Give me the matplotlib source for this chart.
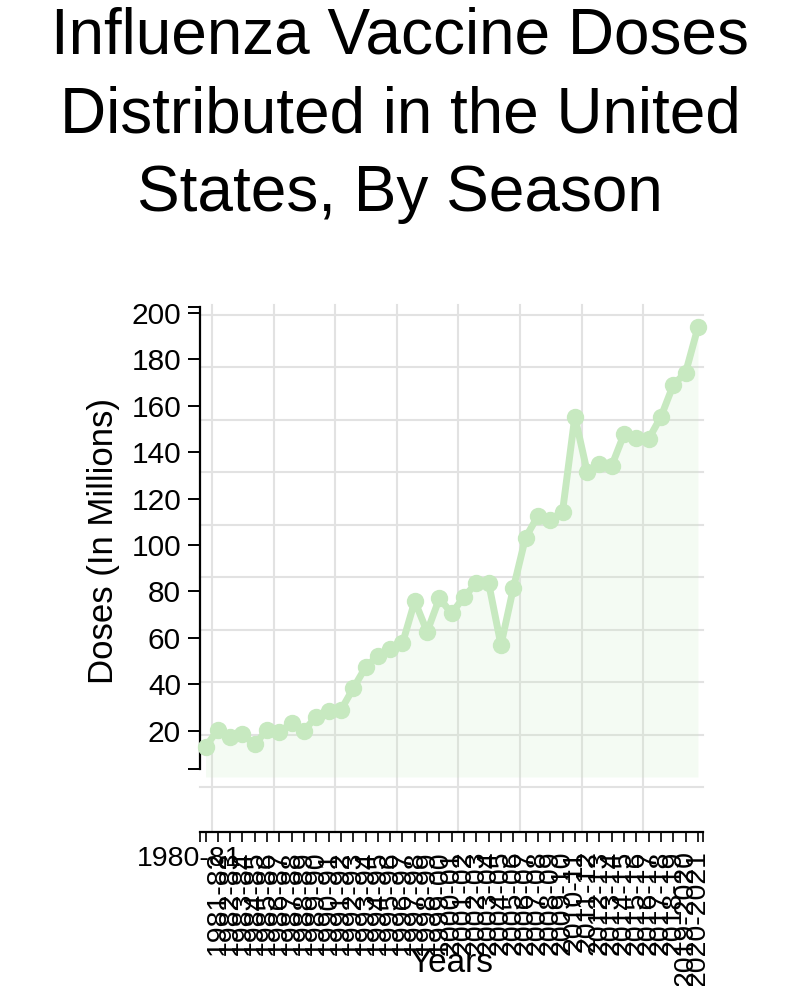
import numpy as np
import matplotlib
matplotlib.use("Agg")
import matplotlib.pyplot as plt

plt.rcParams["font.family"] = ["Liberation Sans", "DejaVu Sans"]

# ----- data -----
SEASONS = [
    "1980-81", "1981-82", "1982-83", "1983-84", "1984-85", "1985-86", "1986-87",
    "1987-88", "1988-89", "1989-90", "1990-91", "1991-92", "1992-93", "1993-94",
    "1994-95", "1995-96", "1996-97", "1997-98", "1998-99", "1999-00", "2000-01",
    "2001-02", "2002-03", "2003-04", "2004-05", "2005-06", "2006-07", "2007-08",
    "2008-09", "2009-10", "2010-11", "2011-12", "2012-13", "2013-14", "2014-15",
    "2015-16", "2016-17", "2017-18", "2018-19", "2019-2020", "2020-2021",
]
DOSES = [
    13.0, 20.3, 17.1, 18.4, 14.1, 20.3, 19.5, 23.1, 20.0, 26.0,
    28.4, 28.9, 38.2, 47.3, 52.2, 55.2, 57.6, 75.8, 62.6, 77.0,
    70.5, 77.7, 83.5, 83.5, 56.9, 81.3, 103.2, 112.5, 110.8, 114.4,
    155.3, 131.6, 134.9, 134.2, 147.8, 146.0, 145.7, 155.3, 169.0, 174.3,
    193.8,
]
Y_TICKS = [20, 40, 60, 80, 100, 120, 140, 160, 180, 200]

LINE_COLOR = "#c7e9c0"
GRID_COLOR = "#e2e2e2"

x = np.arange(len(SEASONS))

fig = plt.figure(figsize=(8, 9.86), dpi=100)
ax = fig.add_axes([200 / 800, 1 - 832 / 986, 503 / 800, 527 / 986])

# background grid (fixed spacing, independent of the scales)
for fy in np.linspace((832 - 315) / 527, (832 - 787) / 527, 10):
    ax.plot([0, 1], [fy, fy], transform=ax.transAxes, color=GRID_COLOR,
            lw=1.5, zorder=0, clip_on=False)
for fx in np.arange(8) * 61.6 / 503 + 12 / 503:
    ax.plot([fx, fx], [0, 1], transform=ax.transAxes, color=GRID_COLOR,
            lw=1.5, zorder=0, clip_on=False)

# area + line
ax.fill_between(x, 0, DOSES, color=LINE_COLOR, alpha=0.18, lw=0, zorder=1)
ax.plot(x, DOSES, color=LINE_COLOR, lw=5, marker="o", ms=11.5,
        zorder=3, clip_on=False)

ax.set_xlim(-0.447, 40.41)
ax.set_ylim(-23.7, 203.4)

# axes styling
for s in ["top", "right"]:
    ax.spines[s].set_visible(False)
ax.spines["left"].set_bounds(3.45, 202.6)
ax.spines["left"].set_linewidth(1.6)
ax.spines["bottom"].set_linewidth(1.6)

ax.set_yticks(Y_TICKS)
ax.set_yticklabels([str(v) for v in Y_TICKS], fontsize=21.5)
ax.set_yticks([3.45, 202.6], minor=True)
ax.tick_params(axis="y", which="both", length=8.6, width=1.4, pad=5,
               direction="out")

ax.set_xticks(x)
ax.set_xticklabels([""] + SEASONS[1:], rotation=90, fontsize=20.5)
ax.set_xticks([-0.447, 40.41], minor=True)
ax.tick_params(axis="x", which="both", length=7.2, width=1.2, pad=6,
               direction="out")

# first season label stays horizontal, partly under the rotated ones
ax.annotate(SEASONS[0], xy=(x[0], 0), xycoords=("data", "axes fraction"),
            xytext=(26, -10), textcoords="offset points",
            ha="right", va="top", fontsize=20.5, zorder=0)

fig.text(103 / 800, 1 - 541 / 986, "Doses (In Millions)", rotation=90,
         ha="center", va="center", fontsize=25)
fig.text(451 / 800, 1 - 972 / 986, "Years", ha="center", va="baseline",
         fontsize=24)

fig.text(0.5, 1 - 7 / 986, "Influenza Vaccine Doses\nDistributed in the United\nStates, By Season",
         ha="center", va="top", fontsize=46, linespacing=1.39)

fig.savefig("out.png", dpi=100)
